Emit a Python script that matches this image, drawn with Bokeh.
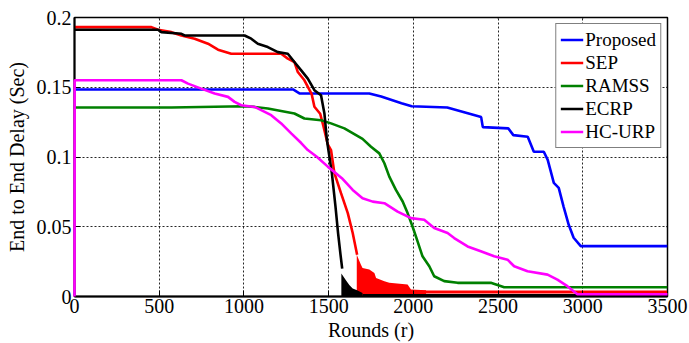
import math
from bokeh.plotting import figure
from bokeh.models import FixedTicker, Range1d
from bokeh.embed import file_html
from bokeh.resources import INLINE

# ---- End-to-end delay versus rounds for each routing protocol ----
rounds_proposed = [0, 1290, 1330, 1740, 1810, 1930, 1990, 2200, 2300, 2400, 2410,
                   2560, 2590, 2675, 2711, 2770, 2793, 2829, 2858, 2887, 2917, 2946,
                   2988, 3500]
delay_proposed = [0.1484, 0.1484, 0.1455, 0.1455, 0.1433, 0.1386, 0.1364, 0.1355,
                  0.1321, 0.1286, 0.1214, 0.1205, 0.1157, 0.1145, 0.1038, 0.1038,
                  0.0979, 0.0814, 0.0779, 0.0643, 0.0514, 0.0421, 0.0361, 0.0361]

rounds_sep = [0, 454, 493, 572, 631, 709, 788, 847, 925, 1220, 1259, 1298, 1318,
              1357, 1400, 1416, 1450, 1470, 1495, 1514, 1534, 1573, 1613, 1642, 1668]
delay_sep = [0.1931, 0.1931, 0.1912, 0.1895, 0.1871, 0.1848, 0.1812, 0.1769, 0.1740,
             0.1740, 0.1705, 0.1681, 0.1609, 0.1550, 0.1450, 0.1360, 0.1310, 0.1217,
             0.1090, 0.1050, 0.0884, 0.0741, 0.0598, 0.0455, 0.0300]
# fluctuating SEP delays after the network thins out (upper envelope)
rounds_sep_burst = [1666, 1690, 1700, 1740, 1770, 1780, 1829, 1858, 1966, 1986, 2075]
delay_sep_burst = [0.0300, 0.0229, 0.0205, 0.0193, 0.0169, 0.0133, 0.0110, 0.0098,
                   0.0086, 0.0050, 0.0045]
rounds_sep_tail = [1986, 3500]
delay_sep_tail = [0.0033, 0.0033]

rounds_ramss = [0, 572, 1000, 1063, 1141, 1298, 1357, 1455, 1514, 1593, 1700, 1750,
                1799, 1829, 1858, 1897, 1937, 1966, 1995, 2015, 2054, 2094, 2123,
                2182, 2261, 2457, 2536, 3500]
delay_ramss = [0.1355, 0.1355, 0.1364, 0.1359, 0.1348, 0.1312, 0.1276, 0.1264,
               0.1241, 0.1205, 0.1130, 0.1074, 0.1026, 0.0955, 0.0859, 0.0764,
               0.0681, 0.0598, 0.0502, 0.0431, 0.0288, 0.0217, 0.0145, 0.0110,
               0.0098, 0.0098, 0.0066, 0.0066]

rounds_ecrp = [0, 493, 513, 631, 650, 1004, 1043, 1082, 1141, 1200, 1259, 1298,
               1338, 1377, 1416, 1455, 1475, 1490, 1519, 1540, 1556, 1570, 1580]
delay_ecrp = [0.1912, 0.1912, 0.1895, 0.1883, 0.1871, 0.1871, 0.1848, 0.1812,
              0.1788, 0.1752, 0.1740, 0.1681, 0.1621, 0.1562, 0.1479, 0.1443,
              0.1312, 0.1120, 0.0884, 0.0650, 0.0450, 0.0300, 0.0200]
rounds_ecrp_burst = [1575, 1603, 1622, 1642, 1668, 1700]
delay_ecrp_burst = [0.0165, 0.0115, 0.0082, 0.0058, 0.0045, 0.0025]
rounds_ecrp_tail = [1700, 3500]
delay_ecrp_tail = [0.0010, 0.0010]

rounds_hcurp = [0, 1, 631, 670, 748, 827, 906, 945, 984, 1063, 1102, 1161, 1220,
                1279, 1338, 1377, 1430, 1495, 1578, 1642, 1700, 1760, 1829, 1907,
                1986, 2064, 2123, 2202, 2241, 2320, 2398, 2477, 2556, 2595, 2674,
                2792, 2850, 2909, 2968, 3500]
delay_hcurp = [0.0, 0.1550, 0.1550, 0.1526, 0.1490, 0.1455, 0.1431, 0.1395, 0.1371,
               0.1359, 0.1336, 0.1300, 0.1241, 0.1169, 0.1100, 0.1050, 0.1002,
               0.0931, 0.0848, 0.0764, 0.0705, 0.0680, 0.0669, 0.0609, 0.0562,
               0.0550, 0.0491, 0.0455, 0.0419, 0.0359, 0.0324, 0.0288, 0.0264,
               0.0217, 0.0181, 0.0157, 0.0121, 0.0074, 0.0016, 0.0016]

x_ticks = [0, 500, 1000, 1500, 2000, 2500, 3000, 3500]
y_ticks = [0, 0.05, 0.1, 0.15, 0.2]
y_tick_labels = ["0", "0.05", "0.1", "0.15", "0.2"]
x_min, x_max = 0, 3500
y_min, y_max = 0, 0.2

FONT = "Liberation Serif"

p = figure(width=689, height=343, output_backend="svg", toolbar_location=None,
           x_range=Range1d(x_min, x_max), y_range=Range1d(y_min, y_max),
           min_border_left=74, min_border_right=22, min_border_top=17,
           min_border_bottom=47)
p.background_fill_color = "white"
p.border_fill_color = "white"
p.outline_line_color = "black"
p.outline_line_width = 1.5

# main curves, in plotting order
p.line(rounds_proposed, delay_proposed, color="#0000FF", line_width=2.6,
       legend_label="Proposed")
p.line(rounds_sep, delay_sep, color="#FF0000", line_width=2.6, legend_label="SEP")
p.varea(x=rounds_sep_burst, y1=[0] * len(rounds_sep_burst), y2=delay_sep_burst,
        fill_color="#FF0000")
p.line(rounds_sep_tail, delay_sep_tail, color="#FF0000", line_width=3)
p.line(rounds_ramss, delay_ramss, color="#008000", line_width=2.6,
       legend_label="RAMSS")
p.line(rounds_ecrp, delay_ecrp, color="black", line_width=2.6, legend_label="ECRP")
p.varea(x=rounds_ecrp_burst, y1=[0] * len(rounds_ecrp_burst), y2=delay_ecrp_burst,
        fill_color="black")
p.line(rounds_ecrp_tail, delay_ecrp_tail, color="black", line_width=2)
p.line(rounds_hcurp, delay_hcurp, color="#FF00FF", line_width=2.6,
       legend_label="HC-URP", level="overlay")

# axes
for ax in (p.xaxis[0], p.yaxis[0]):
    ax.major_label_text_font = FONT
    ax.major_label_text_font_size = "20px"
    ax.major_label_text_color = "black"
    ax.axis_label_text_font = FONT
    ax.axis_label_text_font_size = "20px"
    ax.axis_label_text_font_style = "normal"
    ax.axis_label_text_color = "black"
    ax.major_tick_in = 6
    ax.major_tick_out = 0
    ax.minor_tick_line_color = None
    ax.axis_line_width = 2
    ax.axis_line_color = "black"
    ax.major_tick_line_color = "black"

p.xaxis.ticker = FixedTicker(ticks=x_ticks)
p.yaxis.ticker = FixedTicker(ticks=y_ticks)
p.yaxis.major_label_overrides = {t: s for t, s in zip(y_ticks, y_tick_labels)}
p.xaxis.axis_label = "Rounds (r)"
p.yaxis.axis_label = "End to End Delay (Sec)"
p.xaxis.major_label_standoff = 2
p.xaxis.axis_label_standoff = 3
p.yaxis.major_label_standoff = 3
p.yaxis.axis_label_standoff = 6

# inward tick marks along the top and right edges of the box
p.ray(x=x_ticks, y=[y_max] * len(x_ticks), length=6, angle=-math.pi / 2,
      line_color="black", line_width=1)
p.ray(x=[x_max] * len(y_ticks), y=y_ticks, length=6, angle=math.pi,
      line_color="black", line_width=1)

# dotted grid
for g in (p.xgrid[0], p.ygrid[0]):
    g.grid_line_color = "black"
    g.grid_line_alpha = 0.85
    g.grid_line_dash = "2 2"
    g.grid_line_width = 1

# legend
lg = p.legend[0]
lg.location = "top_right"
lg.margin = 6
lg.padding = 4
lg.spacing = 0
lg.label_height = 23
lg.glyph_height = 23
lg.glyph_width = 23
lg.label_standoff = 2
lg.label_text_font = FONT
lg.label_text_font_size = "19px"
lg.label_text_color = "black"
lg.border_line_color = "black"
lg.border_line_width = 1.5
lg.background_fill_alpha = 1

open("out.html", "w").write(file_html(p, INLINE))
